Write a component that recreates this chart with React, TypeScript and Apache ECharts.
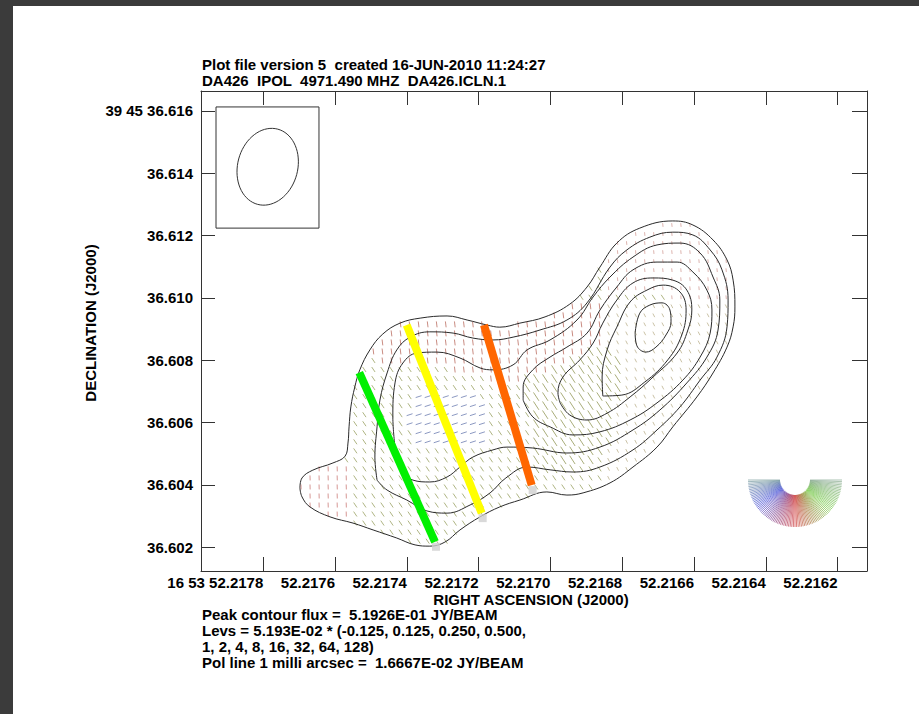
import React, { useEffect, useRef } from "react";
import * as echarts from "echarts";

// x: right ascension offset in microseconds of time from 16 53 52.2160
// y: declination offset in milliarcseconds from 39 45 36.600
const raTicks = [1800, 1600, 1400, 1200, 1000, 800, 600, 400, 200];
const decTicks = [2, 4, 6, 8, 10, 12, 14, 16];
const xRange = [118, 1973.5];
const yRange = [1.232, 16.642];

const contour1 = [[1698,3.90],[1692,4.22],[1662,4.47],[1606,4.70],[1572,4.92],[1564,5.34],[1561,5.86],[1556,6.50],[1545,7.14],[1531,7.69],[1503,8.33],[1467,8.84],[1419,9.19],[1363,9.35],[1288,9.42],[1232,9.29],[1177,9.13],[1141,9.06],[1085,9.19],[1015,9.39],[946,9.80],[898,10.35],[862,10.99],[815,11.76],[751,12.24],[659,12.47],[603,12.34],[547,11.86],[508,11.22],[491,10.57],[486,9.71],[491,9.07],[508,8.42],[547,7.59],[592,6.82],[659,5.86],[703,5.21],[770,4.57],[834,4.06],[909,3.74],[954,3.67],[1010,3.77],[1085,3.51],[1141,3.29],[1196,2.97],[1252,2.55],[1294,2.16],[1336,2.03],[1377,2.07],[1428,2.29],[1494,2.55],[1550,2.77],[1614,2.97],[1670,3.29],[1692,3.61]];
const contour2 = [[1483,4.15],[1489,4.89],[1483,5.86],[1475,6.72],[1455,7.59],[1428,8.33],[1391,8.74],[1336,8.91],[1271,8.87],[1216,8.71],[1160,8.65],[1104,8.74],[1029,8.97],[954,9.29],[898,9.84],[834,10.99],[787,11.54],[723,11.95],[659,12.11],[603,12.02],[555,11.54],[522,10.90],[505,9.93],[508,9.07],[536,8.10],[583,7.36],[639,6.50],[703,5.76],[770,5.12],[862,4.57],[937,4.41],[1001,4.48],[1065,4.57],[1124,4.22],[1168,3.74],[1224,3.35],[1288,3.09],[1344,3.16],[1400,3.51],[1455,3.83]];
const contour3 = [[1433,5.21],[1439,6.18],[1433,7.27],[1411,7.91],[1372,8.23],[1316,8.26],[1252,8.07],[1196,7.75],[1160,7.69],[1104,7.85],[1065,8.33],[1001,8.65],[926,9.29],[881,10.03],[834,10.67],[770,11.31],[703,11.70],[639,11.76],[583,11.44],[547,10.67],[528,9.93],[533,8.97],[564,8.10],[620,7.27],[695,6.40],[770,5.76],[862,5.21],[954,5.02],[1049,5.18],[1121,5.21],[1160,5.12],[1216,4.89],[1252,4.57],[1288,4.25],[1336,4.09],[1383,4.15],[1419,4.57]];
const contour4 = [[1076,6.72],[1076,7.14],[1049,7.69],[1001,8.10],[954,8.42],[898,8.87],[862,9.61],[815,10.35],[770,10.90],[703,11.15],[647,11.15],[603,10.83],[564,10.25],[550,9.61],[555,8.87],[583,8.10],[631,7.36],[703,6.63],[778,6.08],[862,5.70],[937,5.60],[1001,5.86],[1049,6.18]];
const contour5 = [[973,6.63],[979,6.95],[965,7.46],[918,8.01],[881,8.55],[854,9.19],[815,9.93],[770,10.48],[714,10.64],[659,10.57],[620,10.25],[606,9.61],[617,8.97],[647,8.23],[714,7.46],[778,6.82],[842,6.30],[898,6.08],[946,6.24]];
const contour6 = [[854,6.85],[856,7.46],[842,8.33],[815,9.06],[778,9.87],[731,10.25],[686,10.41],[639,10.19],[622,9.61],[634,8.81],[673,8.01],[737,7.30],[801,6.88]];
const contour7 = [[764,8.87],[751,9.51],[723,9.77],[689,9.84],[667,9.61],[664,9.23],[678,8.81],[706,8.42],[734,8.26],[759,8.46]];
const contours = [contour1, contour2, contour3, contour4, contour5, contour6, contour7];

const sliceNames = ["green", "yellow", "orange"];
const sliceColors = ["#00f000", "#ffff00", "#ff6600"];
const sliceTops = [[1532.5, 7.60], [1400.5, 9.13], [1185.1, 9.13]];
const sliceBottoms = [[1321.6, 2.17], [1191.5, 3.09], [1052.2, 3.99]];

// restoring beam (mas, deg east of north), its centre and box corners
const beamCenter = [1787.7, 14.21];
const beamMajor = 2.5;
const beamMinor = 1.93;
const beamPA = -15;
const beamBox = [[1931.7, 16.13], [1644.8, 12.24]];

// polarisation vector zones: polygon, position angle on screen (deg), length (mas), strength
const zoneBlue = { poly: [[1377,6.95],[1210,7.04],[1163,6.08],[1196,5.12],[1363,5.12],[1397,6.08]], angle: 18, len: 0.2, alpha: 0.75 };
const zoneTopRed = { poly: [[1475,9.61],[862,9.93],[862,8.49],[973,7.85],[1076,7.36],[1141,7.36],[1224,7.52],[1336,7.94],[1419,7.94],[1503,8.01]], angle: 97, len: 0.19, alpha: 0.7 };
const zoneBumpRed = { poly: [[1712,4.80],[1558,4.80],[1558,2.55],[1712,2.55]], angle: 92, len: 0.16, alpha: 0.6 };
const zonePeakTop = { poly: [[862,12.66],[472,12.66],[472,9.93],[639,9.93],[751,10.25],[862,9.93]], angle: 96, len: 0.12, alpha: 0.45 };
const zoneLong = { poly: [[1076,7.69],[862,8.97],[806,8.01],[820,5.44],[918,4.48],[1043,4.48]], angle: 123, len: 0.32, alpha: 0.75 };
const zonePeak = { poly: [[862,9.93],[472,9.93],[472,3.83],[862,3.83]], angle: 117, len: 0.13, alpha: 0.5 };
const zoneDefault = { poly: [], angle: 124, len: 0.19, alpha: 0.7 };
const vectorZones = [zoneBlue, zoneTopRed, zoneBumpRed, zonePeakTop, zoneLong, zonePeak];
const latticeX = 25.2; // 0.29 mas
const latticeY = 0.29;

// colour wheel stops (angle from left horizontal through bottom)
const wheelStops: [number, number[]][] = [
  [0, [110, 150, 150]],
  [35, [50, 60, 210]],
  [90, [205, 45, 45]],
  [140, [100, 195, 45]],
  [180, [125, 160, 135]],
];

const titleLines = ["Plot file version 5  created 16-JUN-2010 11:24:27", "DA426  IPOL  4971.490 MHZ  DA426.ICLN.1"];
const footLines = [
  "Peak contour flux =  5.1926E-01 JY/BEAM",
  "Levs = 5.193E-02 * (-0.125, 0.125, 0.250, 0.500,",
  "1, 2, 4, 8, 16, 32, 64, 128)",
  "Pol line 1 milli arcsec =  1.6667E-02 JY/BEAM",
];

const FONT = 'bold 15px "Liberation Sans", Arial, sans-serif';
const MAS_X = 86.7; // microseconds of RA per mas at this declination

function wheelColor(a: number, mute = 0): string {
  let i = 0;
  while (i < wheelStops.length - 2 && a > wheelStops[i + 1][0]) i++;
  const [a0, c0] = wheelStops[i];
  const [a1, c1] = wheelStops[i + 1];
  const t = Math.max(0, Math.min(1, (a - a0) / (a1 - a0)));
  const c = c0.map((v, k) => v + (c1[k] - v) * t).map((v) => v * (1 - mute) + 150 * mute);
  return `rgb(${c.map((v) => Math.round(v)).join(",")})`;
}

function inPoly(p: number[], poly: number[][]): boolean {
  let inside = false;
  for (let i = 0, j = poly.length - 1; i < poly.length; j = i++) {
    const [xi, yi] = poly[i];
    const [xj, yj] = poly[j];
    if (yi > p[1] !== yj > p[1] && p[0] < ((xj - xi) * (p[1] - yi)) / (yj - yi) + xi) inside = !inside;
  }
  return inside;
}

function buildVectors() {
  const out: number[][] = [];
  for (let y = 1.9; y < 12.6; y += latticeY) {
    for (let x = 1720; x > 470; x -= latticeX) {
      if (!inPoly([x, y], contour1)) continue;
      const z = vectorZones.find((zz) => inPoly([x, y], zz.poly)) || zoneDefault;
      out.push([x, y, z.angle, z.len, z.alpha]);
    }
  }
  return out;
}

function beamEllipse() {
  const pts: number[][] = [];
  const th = (beamPA * Math.PI) / 180;
  for (let k = 0; k <= 72; k++) {
    const t = (k / 72) * Math.PI * 2;
    const u = (beamMajor / 2) * Math.cos(t);
    const v = (beamMinor / 2) * Math.sin(t);
    const west = u * -Math.sin(th) + v * Math.cos(th);
    const north = u * Math.cos(th) + v * Math.sin(th);
    pts.push([beamCenter[0] - west * MAS_X, beamCenter[1] + north]);
  }
  return pts;
}

export default function App() {
  const ref = useRef<HTMLDivElement>(null);
  useEffect(() => {
    if (!ref.current) return;
    const chart = echarts.init(ref.current, undefined, { renderer: "svg" });
    const axisLineStyle = { color: "#333", width: 1 };
    const labelStyle = { fontFamily: '"Liberation Sans", Arial, sans-serif', fontWeight: "bold" as const, fontSize: 15, color: "#000" };
    const xFmt = (v: number) => (Math.abs(v - 1800) < 1e-6 ? "16 53 52.2178" : (52.216 + v / 1e6).toFixed(4));
    const yFmt = (v: number) => (Math.abs(v - 16) < 1e-6 ? "39 45 36.616" : (36.6 + v / 1000).toFixed(3));

    const series: any[] = [];
    series.push({
      type: "custom",
      name: "pol",
      coordinateSystem: "cartesian2d",
      silent: true,
      z: 2,
      data: buildVectors(),
      renderItem: (_p: any, api: any) => {
        const x = api.value(0), y = api.value(1), ang = api.value(2), L = api.value(3), al = api.value(4);
        const c = api.coord([x, y]);
        const lp = api.size([0, L])[1];
        const phi = (ang * Math.PI) / 180;
        const dx = (Math.cos(phi) * lp) / 2, dy = (-Math.sin(phi) * lp) / 2;
        return {
          type: "line",
          shape: { x1: c[0] - dx, y1: c[1] - dy, x2: c[0] + dx, y2: c[1] + dy },
          style: { stroke: wheelColor(ang, 0.3), lineWidth: 1, opacity: al },
        };
      },
    });
    contours.forEach((c, i) => {
      series.push({
        type: "line",
        name: "contour" + (i + 1),
        data: [...c, c[0]],
        showSymbol: false,
        smooth: 0.4,
        silent: true,
        z: 3,
        lineStyle: { color: "#2a2a2a", width: 1 },
      });
    });
    const bx0 = beamBox[0], bx1 = beamBox[1];
    series.push({
      type: "line", name: "beambox", silent: true, showSymbol: false, z: 3,
      data: [[bx0[0], bx0[1]], [bx1[0], bx0[1]], [bx1[0], bx1[1]], [bx0[0], bx1[1]], [bx0[0], bx0[1]]],
      lineStyle: { color: "#333", width: 1 },
    });
    series.push({
      type: "line", name: "beam", silent: true, showSymbol: false, z: 3,
      data: beamEllipse(), lineStyle: { color: "#333", width: 1 },
    });
    series.push({
      type: "scatter", name: "sliceShadow", silent: true, z: 4,
      data: sliceBottoms, symbol: "rect", symbolSize: 8, symbolOffset: [1, 5],
      itemStyle: { color: "#cfcfcf" },
    });
    sliceNames.forEach((n, i) => {
      series.push({
        type: "line", name: n, silent: true, showSymbol: false, z: 5,
        data: [sliceTops[i], sliceBottoms[i]],
        lineStyle: { color: sliceColors[i], width: 8, cap: "butt" },
      });
    });

    const fan: any[] = [];
    for (let a = 0; a <= 180; a += 2) {
      const r = (a * Math.PI) / 180;
      const ux = -Math.cos(r), uy = Math.sin(r);
      fan.push({
        type: "line",
        shape: { x1: ux * 15, y1: uy * 15, x2: ux * 47, y2: uy * 47 },
        style: { stroke: wheelColor(a), lineWidth: 0.8, opacity: 0.8 },
        silent: true,
      });
    }

    const graphic: any[] = [
      { type: "group", x: 795, y: 480, children: fan, z: 10 },
      ...titleLines.map((t, i) => ({
        type: "text", x: 202, y: 64 + i * 16,
        style: { text: t, font: FONT, fill: "#000", align: "left", verticalAlign: "middle" },
      })),
      ...footLines.map((t, i) => ({
        type: "text", x: 202, y: 614 + i * 16,
        style: { text: t, font: FONT, fill: "#000", align: "left", verticalAlign: "middle" },
      })),
      {
        type: "text", x: 531, y: 599,
        style: { text: "RIGHT ASCENSION (J2000)", font: FONT, fill: "#000", align: "center", verticalAlign: "middle" },
      },
      {
        type: "text", x: 90, y: 323, rotation: Math.PI / 2,
        style: { text: "DECLINATION (J2000)", font: FONT, fill: "#000", align: "center", verticalAlign: "middle" },
      },
    ];

    chart.setOption({
      animation: false,
      backgroundColor: "transparent",
      grid: { left: 201, top: 91, width: 666, height: 480, containLabel: false },
      xAxis: [
        {
          type: "value", position: "bottom", inverse: true, min: xRange[0], max: xRange[1],
          axisLine: { show: true, lineStyle: axisLineStyle },
          axisTick: { show: true, inside: true, length: 14, lineStyle: axisLineStyle, customValues: raTicks },
          axisLabel: { show: true, ...labelStyle, align: "right", margin: 4, formatter: xFmt, customValues: raTicks },
          splitLine: { show: false },
        },
        {
          type: "value", position: "top", inverse: true, min: xRange[0], max: xRange[1],
          axisLine: { show: true, lineStyle: axisLineStyle },
          axisTick: { show: true, inside: true, length: 14, lineStyle: axisLineStyle, customValues: raTicks },
          axisLabel: { show: false },
          splitLine: { show: false },
        },
      ],
      yAxis: [
        {
          type: "value", position: "left", min: yRange[0], max: yRange[1],
          axisLine: { show: true, lineStyle: axisLineStyle },
          axisTick: { show: true, inside: true, length: 14, lineStyle: axisLineStyle, customValues: decTicks },
          axisLabel: { show: true, ...labelStyle, margin: 8, formatter: yFmt, customValues: decTicks },
          splitLine: { show: false },
        },
        {
          type: "value", position: "right", min: yRange[0], max: yRange[1],
          axisLine: { show: true, lineStyle: axisLineStyle },
          axisTick: { show: true, inside: true, length: 15, lineStyle: axisLineStyle, customValues: decTicks },
          axisLabel: { show: false },
          splitLine: { show: false },
        },
      ],
      series,
      graphic,
    });
    return () => chart.dispose();
  }, []);

  return (
    <div style={{ position: "fixed", left: 0, top: 0, width: 919, height: 714, background: "#3b3b3b", overflow: "hidden" }}>
      <div style={{ position: "absolute", left: 13, top: 6, right: 0, bottom: 0, background: "#ffffff" }} />
      <div ref={ref} style={{ position: "absolute", left: 0, top: 0, width: 919, height: 714 }} />
    </div>
  );
}
